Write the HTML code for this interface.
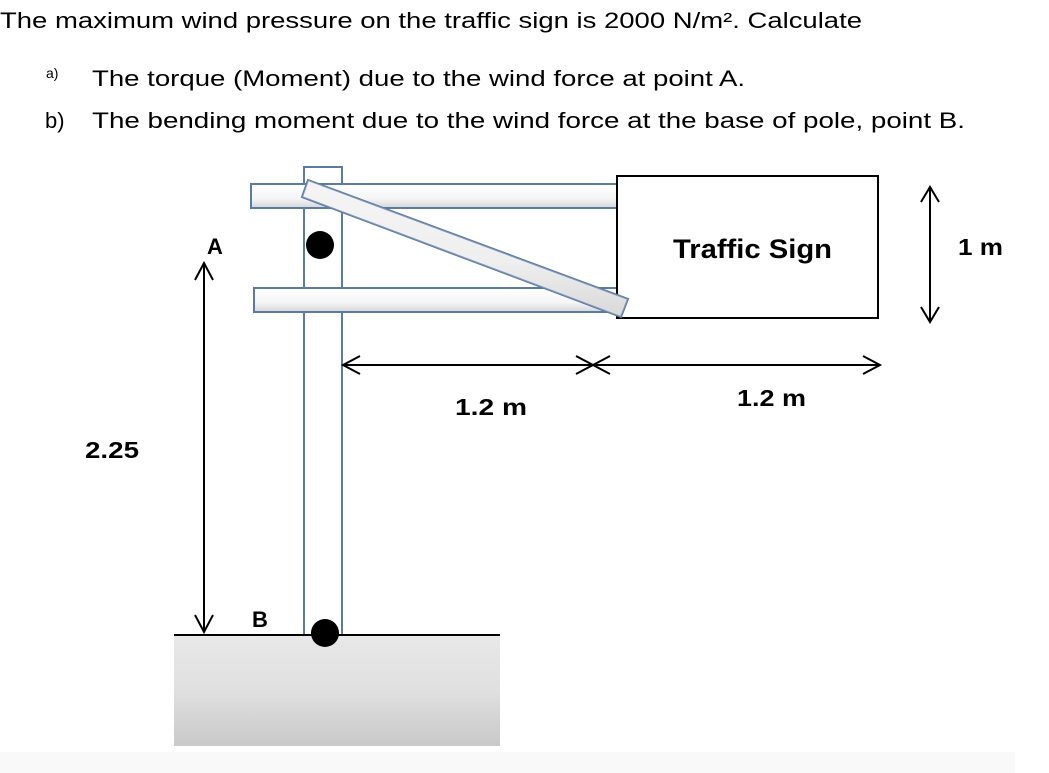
<!DOCTYPE html>
<html><head><meta charset="utf-8"><style>
html,body{margin:0;padding:0;background:#fff;width:1049px;height:773px;overflow:hidden}
svg{display:block}
text{font-family:"Liberation Sans",sans-serif;fill:#000}
</style></head><body>
<svg width="1049" height="773" viewBox="0 0 1049 773">
<defs>
<linearGradient id="bar" x1="0" y1="0" x2="0" y2="1">
<stop offset="0" stop-color="#ffffff"/><stop offset="0.6" stop-color="#f6f6f6"/><stop offset="1" stop-color="#d6d6d6"/>
</linearGradient>
<linearGradient id="gnd" x1="0" y1="0" x2="0" y2="1">
<stop offset="0" stop-color="#e8e8e8"/><stop offset="0.5" stop-color="#e0e0e0"/><stop offset="1" stop-color="#c9c9c9"/>
</linearGradient>
</defs>
<rect x="0" y="752" width="1015" height="21" fill="#f9f9f9"/>
<text x="0" y="28" font-size="22" textLength="862" lengthAdjust="spacingAndGlyphs">The maximum wind pressure on the traffic sign is 2000 N/m². Calculate</text>
<text x="46" y="78" font-size="14">a)</text>
<text x="92" y="86" font-size="22" textLength="653" lengthAdjust="spacingAndGlyphs">The torque (Moment) due to the wind force at point A.</text>
<text x="45" y="128" font-size="22">b)</text>
<text x="92" y="128" font-size="22" textLength="873" lengthAdjust="spacingAndGlyphs">The bending moment due to the wind force at the base of pole, point B.</text>

<rect x="174" y="635" width="326" height="111" fill="url(#gnd)"/>
<rect x="304" y="167" width="38" height="468" fill="#fff" stroke="#5b7aa5" stroke-width="2"/>
<rect x="251" y="184" width="366" height="24" fill="url(#bar)" stroke="#5b7aa5" stroke-width="2"/>
<rect x="254" y="288" width="363" height="24" fill="url(#bar)" stroke="#5b7aa5" stroke-width="2"/>
<line x1="174" y1="635" x2="500" y2="635" stroke="#000" stroke-width="2"/>
<circle cx="320" cy="245" r="14" fill="#000"/>
<circle cx="325" cy="633" r="14" fill="#000"/>
<rect x="617" y="176" width="261" height="142" fill="#fff" stroke="#000" stroke-width="2"/>
<polygon points="308,180 628,299 621,317 302,197" fill="url(#bar)" stroke="#5b7aa5" stroke-width="2"/>
<polygon points="308,180 628,299 621,317 302,197" fill="#ddd" opacity="0.3"/>
<text x="673" y="258" font-size="27" font-weight="bold" textLength="159" lengthAdjust="spacingAndGlyphs">Traffic Sign</text>
<g stroke="#000" stroke-width="2" fill="none">
<line x1="204" y1="263" x2="204" y2="632"/>
<polyline points="195,280 204,263 213,280"/>
<polyline points="195,615 204,632 213,615"/>
<line x1="343" y1="365" x2="880" y2="365"/>
<polyline points="360,356 343,365 360,374"/>
<polyline points="576,356 593,365 576,374"/>
<polyline points="610,356 593,365 610,374"/>
<polyline points="863,356 880,365 863,374"/>
<line x1="930" y1="187" x2="930" y2="322"/>
<polyline points="921,202 930,187 939,202"/>
<polyline points="921,307 930,322 939,307"/>
</g>
<text x="207" y="254" font-size="22" font-weight="bold">A</text>
<text x="252" y="627" font-size="22" font-weight="bold">B</text>
<text x="85" y="458" font-size="23" font-weight="bold" textLength="54" lengthAdjust="spacingAndGlyphs">2.25</text>
<text x="455" y="415" font-size="23" font-weight="bold" textLength="72" lengthAdjust="spacingAndGlyphs">1.2 m</text>
<text x="737" y="406" font-size="23" font-weight="bold" textLength="69" lengthAdjust="spacingAndGlyphs">1.2 m</text>
<text x="958" y="255" font-size="23" font-weight="bold" textLength="45" lengthAdjust="spacingAndGlyphs">1 m</text>
</svg>
</body></html>
